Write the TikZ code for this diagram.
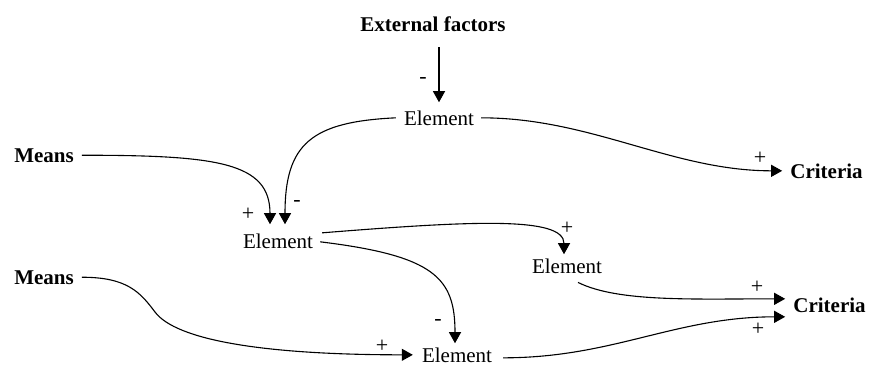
\documentclass[tikz,border=0pt]{standalone}
\usepackage{fontspec}
\setmainfont{Liberation Serif}
\usetikzlibrary{arrows.meta}
\begin{document}
\begin{tikzpicture}[x=1pt,y=-1pt,
  txt/.style={inner sep=0pt,anchor=base,font=\fontsize{21}{25}\selectfont},
  btxt/.style={txt,font=\fontsize{21}{25}\selectfont\bfseries},
  sgn/.style={inner sep=0pt,font=\fontsize{22}{24}\selectfont},
  arr/.style={line width=1.1pt,-{Triangle[length=11pt,width=12pt]}}]
\useasboundingbox (0,0) rectangle (869,365);
% nodes
\node[btxt] (ext) at (433,31) {External factors};
\node[txt] (el1) at (439,125) {Element};
\node[btxt] (m1) at (44,162) {Means};
\node[btxt] (m2) at (44,284) {Means};
\node[txt] (el2) at (278,248) {Element};
\node[txt] (el3) at (567,273) {Element};
\node[txt] (el4) at (457,362) {Element};
\node[btxt] (c1) at (826.5,178) {Criteria};
\node[btxt] (c2) at (829.5,312) {Criteria};
\coordinate (bend) at (155,312);
% connectors
\draw[arr] ([xshift=6pt,yshift=-16pt]ext.south) -- ([yshift=8pt]el1.north);
\draw[arr] ([xshift=8pt]m1.east) .. controls +(135,0) and +(0,-62) .. ([xshift=-8pt,yshift=9pt]el2.north);
\draw[arr] ([xshift=-8pt]el1.west) .. controls +(-85,4) and +(0,-80) .. ([xshift=7pt,yshift=9pt]el2.north);
\draw[arr] ([xshift=7pt]el1.east) .. controls +(110,0) and +(-110,0) .. ([xshift=-8pt]c1.west);
\draw[arr] ([xshift=9pt,yshift=8pt]el2.east) .. controls +(150,-12) and +(0,-38) .. ([xshift=-3pt,yshift=4pt]el3.north);
\draw[arr] ([xshift=7pt,yshift=-1pt]el2.east) .. controls +(115,14) and +(0,-65) .. ([xshift=-2pt,yshift=4pt]el4.north);
\draw[arr] ([xshift=8pt]m2.east) .. controls +(45,0) and +(-15,-20) .. (bend) .. controls +(21,28) and +(-150,0) .. ([xshift=-9pt]el4.west);
\draw[arr] ([xshift=11pt,yshift=-9pt]el3.south) .. controls +(40,20) and +(-90,0) .. ([xshift=-8pt,yshift=6pt]c2.west);
\draw[arr] ([xshift=11pt,yshift=-3pt]el4.east) .. controls +(110,0) and +(-110,0) .. ([xshift=-8pt,yshift=-12pt]c2.west);
% signs
\node[sgn] (s1) at (423,80) {-};
\node[sgn] (s2) at (248,214) {+};
\node[sgn] (s3) at (297,203) {-};
\node[sgn] (s4) at (760,158) {+};
\node[sgn] (s5) at (567,228) {+};
\node[sgn] (s6) at (438,322) {-};
\node[sgn] (s7) at (382,346) {+};
\node[sgn] (s8) at (757,287) {+};
\node[sgn] (s9) at (758,329) {+};
\end{tikzpicture}
\end{document}
